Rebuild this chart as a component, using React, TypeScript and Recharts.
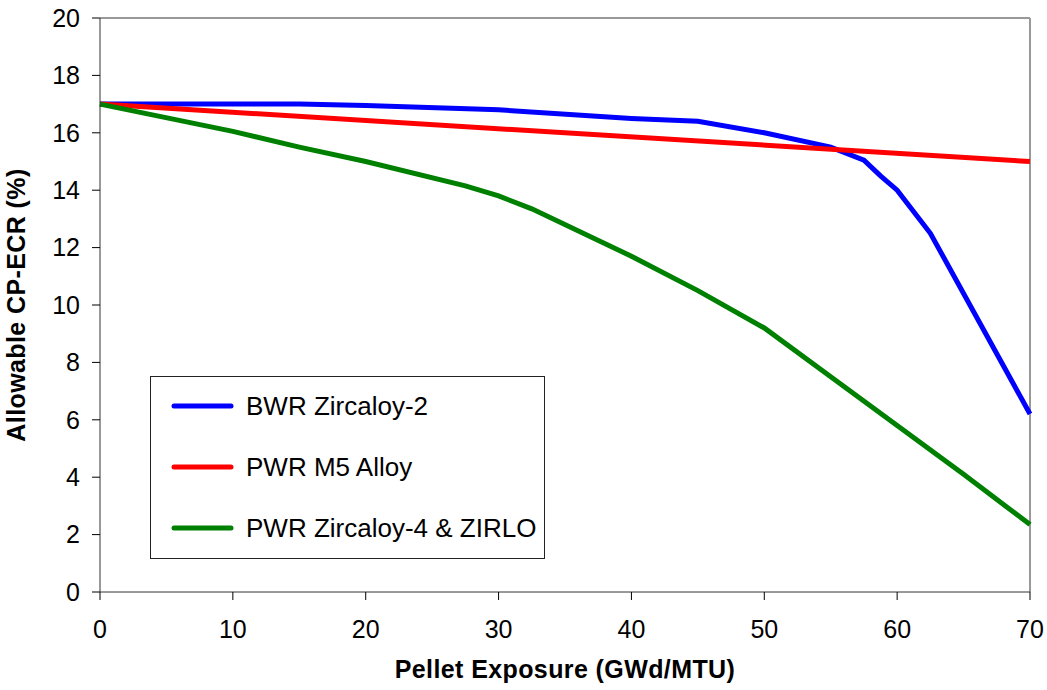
import React from "react";
import { LineChart, Line, XAxis, YAxis, ReferenceLine } from "recharts";

const exposureTicks = [0, 10, 20, 30, 40, 50, 60, 70];
const ecrTicks = [0, 2, 4, 6, 8, 10, 12, 14, 16, 18, 20];

const bwrExposure = [0, 10, 15, 20, 30, 40, 45, 50, 55, 57.5, 58.75, 60, 62.5, 70];
const bwrEcr = [17, 17, 17, 16.95, 16.8, 16.5, 16.4, 16.0, 15.5, 15.05, 14.5, 14.0, 12.5, 6.2];

const m5Exposure = [0, 70];
const m5Ecr = [17, 15];

const zr4Exposure = [0, 10, 15, 20, 27.5, 30, 32.5, 40, 45, 50, 55, 60, 65, 70];
const zr4Ecr = [17, 16.05, 15.5, 15.0, 14.15, 13.8, 13.35, 11.7, 10.5, 9.2, 7.5, 5.8, 4.1, 2.35];

const seriesNames = ["BWR Zircaloy-2", "PWR M5 Alloy", "PWR Zircaloy-4 & ZIRLO"];
const seriesColors = ["#0000ff", "#ff0000", "#008000"];

const zip = (xs: number[], ys: number[]) => xs.map((x, i) => ({ x, y: ys[i] }));

const FONT = "Arial, 'Liberation Sans', sans-serif";

// legend box sits inside the plot area, lower left
const LegendBox = () => (
  <div
    style={{
      position: "absolute",
      left: 150,
      top: 376,
      width: 395,
      height: 183,
      border: "1px solid #222",
      background: "#fff",
      boxSizing: "border-box",
      fontFamily: FONT,
      fontSize: 26,
      paddingTop: 0,
    }}
  >
    {seriesNames.map((name, i) => (
      <div
        key={name}
        style={{ position: "absolute", left: 0, top: 29 + i * 61 - 15, height: 30, display: "flex", alignItems: "center" }}
      >
        <svg width={95} height={10}>
          <line x1={23} x2={80} y1={5} y2={5} stroke={seriesColors[i]} strokeWidth={5} strokeLinecap="round" />
        </svg>
        <span style={{ color: "#000", whiteSpace: "nowrap" }}>{name}</span>
      </div>
    ))}
  </div>
);

export default function App() {
  return (
    <div style={{ position: "absolute", left: 0, top: 0, width: 1047, height: 690, background: "#fff" }}>
      <LineChart width={1047} height={690} margin={{ top: 18, right: 17, bottom: 0, left: 0 }}>
        <XAxis
          dataKey="x"
          type="number"
          domain={[0, 70]}
          ticks={exposureTicks}
          allowDuplicatedCategory={false}
          height={98}
          tickSize={8}
          tickMargin={20}
          stroke="#333"
          tickLine={{ stroke: "#000" }}
          tick={{ fill: "#000", fontSize: 25, fontFamily: FONT }}
          label={{
            value: "Pellet Exposure (GWd/MTU)",
            position: "insideBottom",
            offset: 12,
            fill: "#000",
            fontSize: 25,
            fontWeight: "bold",
            fontFamily: FONT,
            letterSpacing: 0.4,
          }}
        />
        <YAxis
          dataKey="y"
          type="number"
          domain={[0, 20]}
          ticks={ecrTicks}
          width={100}
          tickSize={8}
          tickMargin={12}
          stroke="#333"
          tickLine={{ stroke: "#000" }}
          tick={{ fill: "#000", fontSize: 25, fontFamily: FONT }}
          label={{
            value: "Allowable CP-ECR (%)",
            angle: -90,
            position: "insideLeft",
            offset: 16,
            style: { textAnchor: "middle" },
            fill: "#000",
            fontSize: 25,
            fontWeight: "bold",
            fontFamily: FONT,
            letterSpacing: 0.4,
          }}
        />
        <ReferenceLine y={20} stroke="#999" strokeWidth={2} />
        <ReferenceLine x={70} stroke="#999" strokeWidth={2} />
        <Line
          data={zip(bwrExposure, bwrEcr)}
          dataKey="y"
          name={seriesNames[0]}
          stroke={seriesColors[0]}
          strokeWidth={5}
          dot={false}
          type="linear"
          isAnimationActive={false}
        />
        <Line
          data={zip(m5Exposure, m5Ecr)}
          dataKey="y"
          name={seriesNames[1]}
          stroke={seriesColors[1]}
          strokeWidth={5}
          dot={false}
          type="linear"
          isAnimationActive={false}
        />
        <Line
          data={zip(zr4Exposure, zr4Ecr)}
          dataKey="y"
          name={seriesNames[2]}
          stroke={seriesColors[2]}
          strokeWidth={5}
          dot={false}
          type="linear"
          isAnimationActive={false}
        />
      </LineChart>
      <LegendBox />
    </div>
  );
}
